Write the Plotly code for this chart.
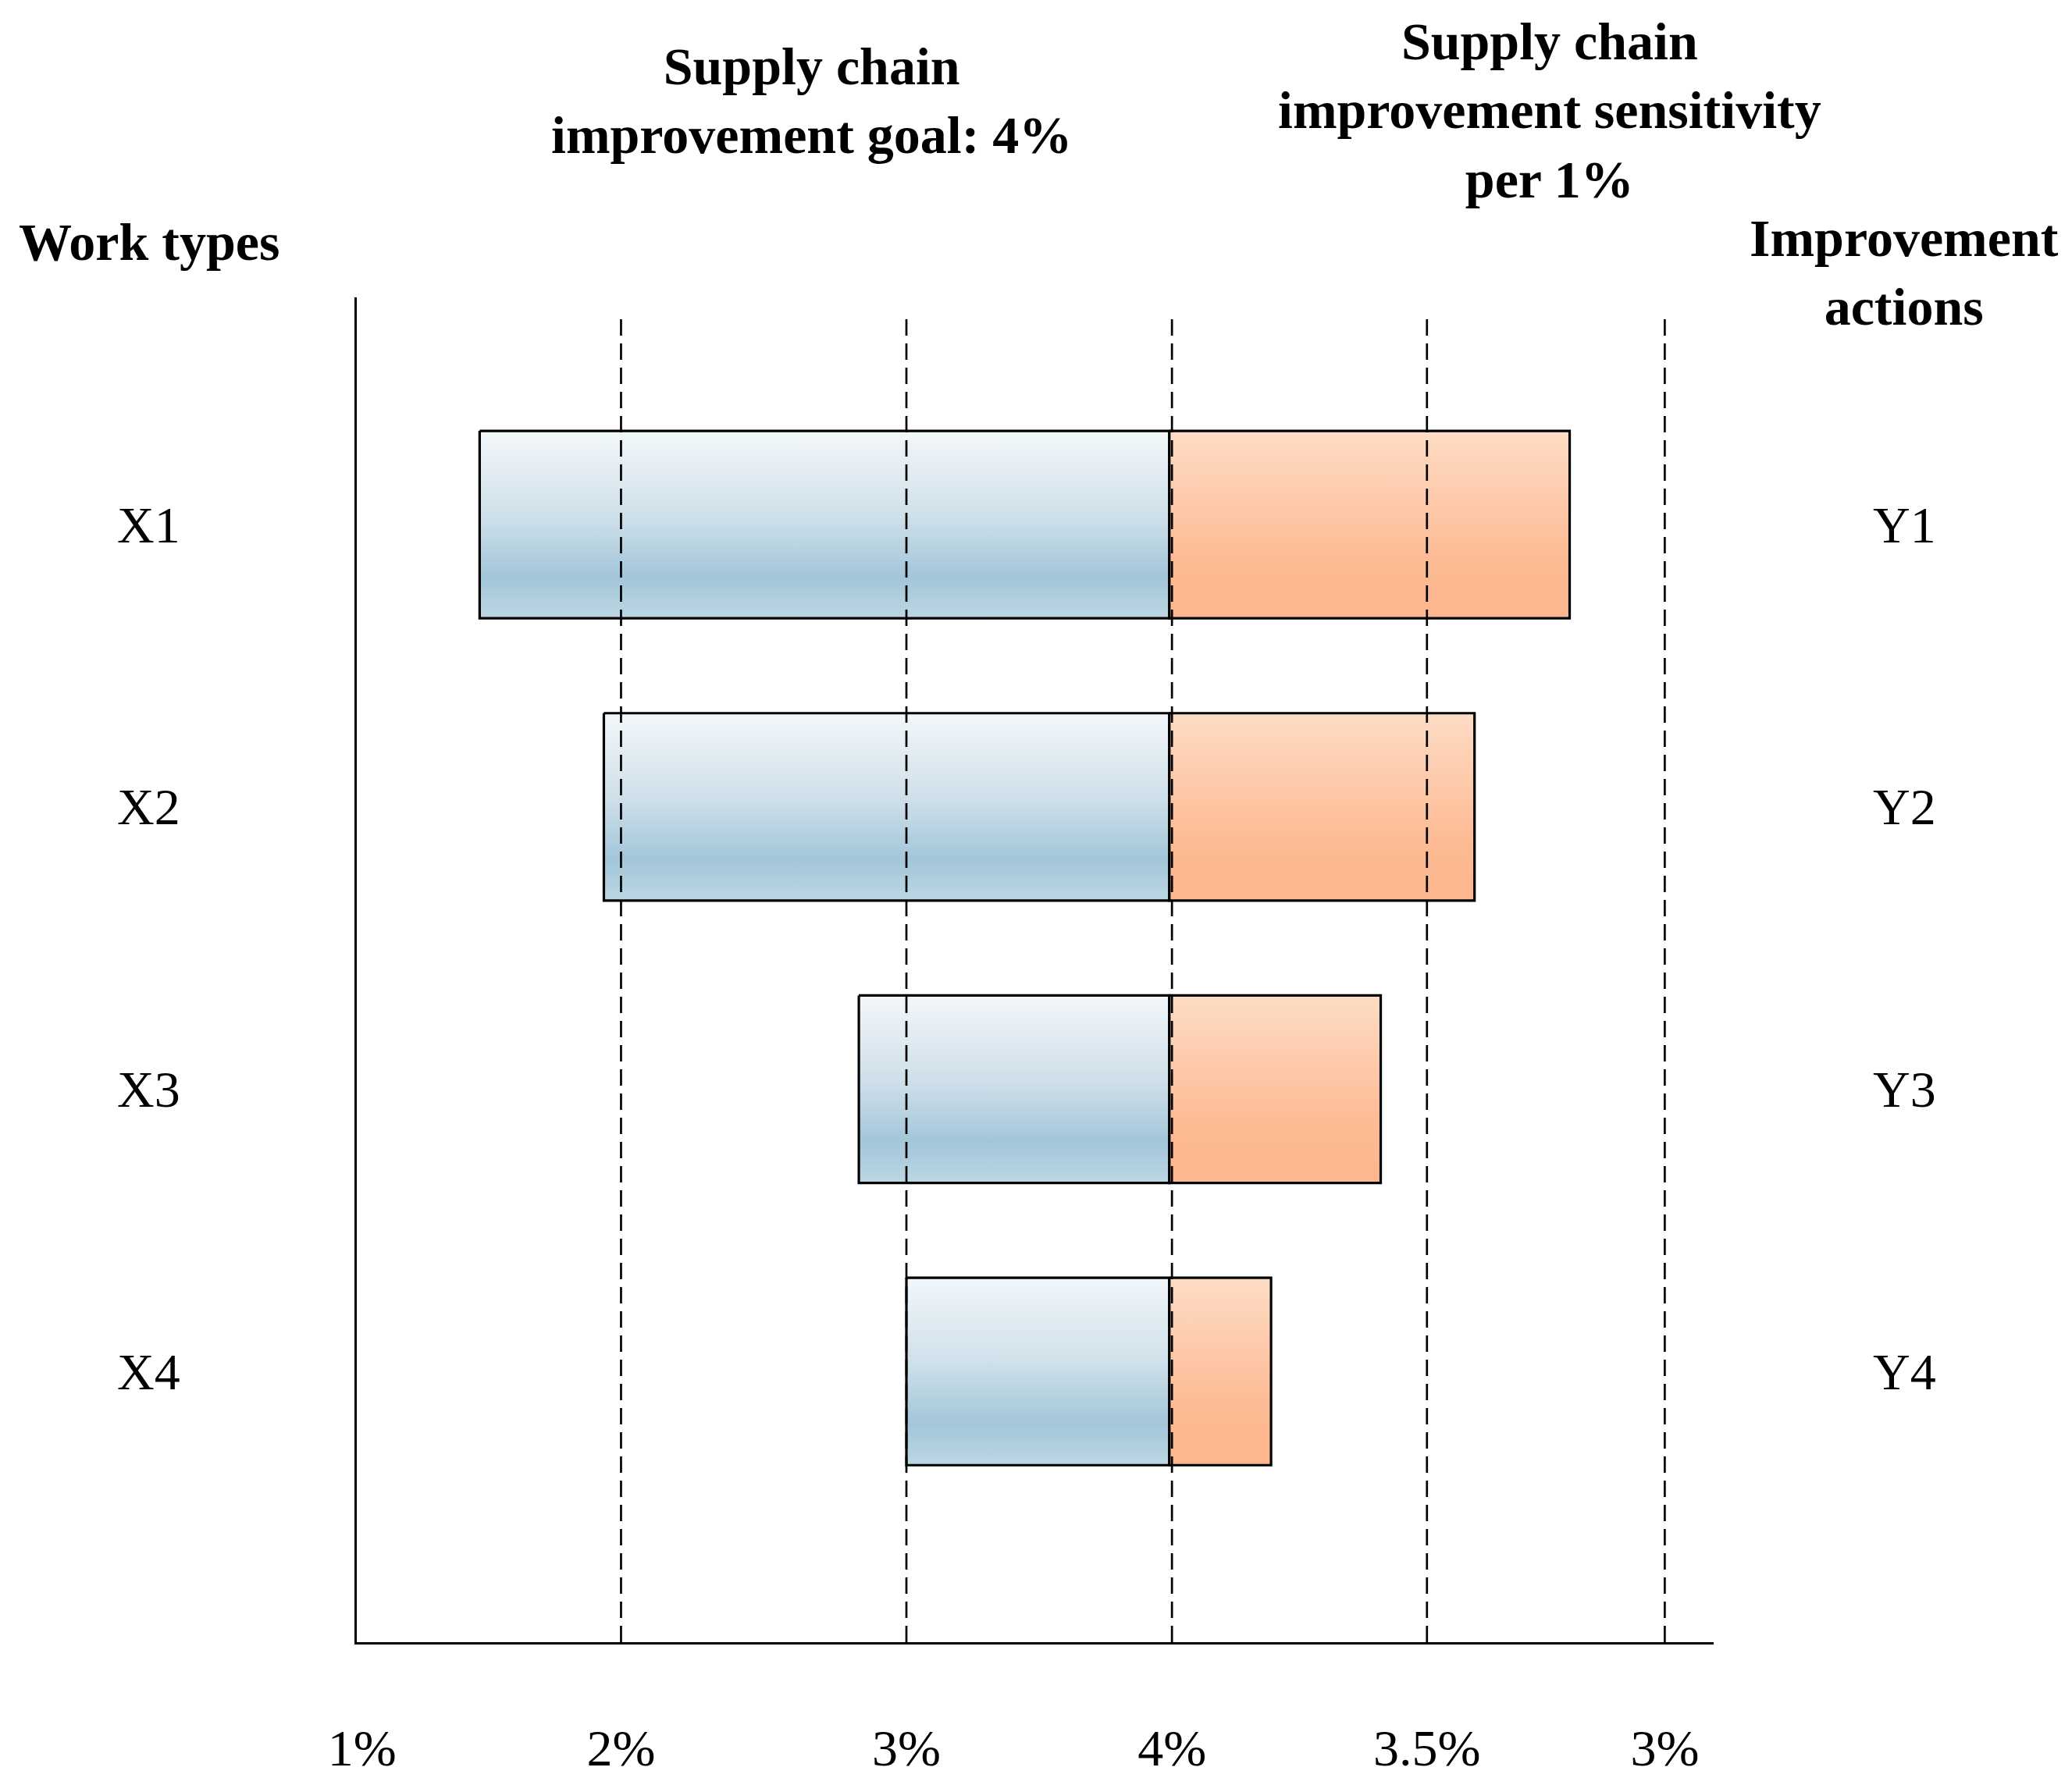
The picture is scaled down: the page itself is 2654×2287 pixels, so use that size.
import plotly.graph_objects as go

# ---- data (axis position units; ticks carry the percentage labels) ----
work_types = ["X1", "X2", "X3", "X4"]
actions = ["Y1", "Y2", "Y3", "Y4"]
rows = [1, 2, 3, 4]
goal_start = [0.465, 0.935, 1.90, 2.08]     # left end of blue bars
goal_end = [3.075, 3.075, 3.075, 3.075]     # goal point (4%)
sens_end = [4.59, 4.23, 3.875, 3.46]        # right end of orange bars
tick_pos = [0.02, 1.0, 2.08, 3.085, 4.05, 4.95]
tick_labels = ["1%", "2%", "3%", "4%", "3.5%", "3%"]

FONT = "Liberation Serif"
OFF = 8                      # default page body margin
W, H = 2654 - 2 * OFF, 2287 - 2 * OFF
L, T = 457 - OFF, 381 - OFF
PW, PH = 1738, 1723
R, B = W - L - PW, H - T - PH
BAR_H = 0.664

def px(x):
    return (x - OFF - L) / PW

def py(y):
    return (T + PH - (y - OFF)) / PH

blue_scale = [[0, "#F3F7FA"], [0.45, "#CFE0EA"], [0.78, "#A3C6D9"], [1, "#BDD7E4"]]
orange_scale = [[0, "#FEDCC5"], [0.7, "#FDBA93"], [1, "#FDB68E"]]

fig = go.Figure()

def add_bar(x0, x1, yc, scale):
    top, bot = yc - BAR_H / 2, yc + BAR_H / 2
    fig.add_trace(go.Scatter(
        x=[x0, x1, x1, x0, x0], y=[top, top, bot, bot, top],
        mode="lines", fill="toself",
        fillgradient=dict(type="vertical", colorscale=scale, start=top, stop=bot),
        line=dict(color="black", width=3.2),
        hoverinfo="skip", showlegend=False))

for i, r in enumerate(rows):
    add_bar(goal_start[i], goal_end[i], r, blue_scale)
    add_bar(goal_end[i], sens_end[i], r, orange_scale)

# dashed reference lines above the bars
for xv in tick_pos[1:]:
    fig.add_shape(type="line", xref="x", yref="paper", x0=xv, x1=xv, y0=0, y1=0.988,
                  line=dict(color="black", width=2.7, dash="21px,10px"), layer="above")

ann = []
for r, wt, ac in zip(rows, work_types, actions):
    ann.append(dict(text=wt, xref="paper", yref="y", x=px(190), y=r, showarrow=False,
                    xanchor="center", yanchor="middle", font=dict(size=66)))
    ann.append(dict(text=ac, xref="paper", yref="y", x=px(2439), y=r, showarrow=False,
                    xanchor="center", yanchor="middle", font=dict(size=66)))

bold = dict(size=68, family=FONT, color="black")
ann.append(dict(text="<b>Work types</b>", xref="paper", yref="paper", x=px(191), y=py(310),
                showarrow=False, xanchor="center", yanchor="middle", font=bold))
ann.append(dict(text="<b>Improvement<br>actions</b>", xref="paper", yref="paper", x=px(2439),
                y=py(349), showarrow=False, xanchor="center", yanchor="middle", font=bold))
ann.append(dict(text="<b>Supply chain<br>improvement goal: 4%</b>", xref="paper", yref="paper",
                x=px(1039), y=py(129), showarrow=False, xanchor="center", yanchor="middle", font=bold))
ann.append(dict(text="<b>Supply chain<br>improvement sensitivity<br>per 1%</b>", xref="paper",
                yref="paper", x=px(1985), y=py(142), showarrow=False, xanchor="center",
                yanchor="middle", font=bold))

fig.update_layout(
    width=W, height=H,
    margin=dict(l=L, r=R, t=T, b=B, autoexpand=False),
    paper_bgcolor="white", plot_bgcolor="white",
    font=dict(family=FONT, size=66, color="black"),
    annotations=ann,
    xaxis=dict(range=[0, 5.135], showline=True, linecolor="black", linewidth=3.4,
               showgrid=False, zeroline=False, ticks="", tickvals=tick_pos, ticktext=tick_labels,
               ticklabelstandoff=76, tickfont=dict(size=66), automargin=False),
    yaxis=dict(range=[4.959, 0.195], showline=True, linecolor="black", linewidth=3.4,
               showgrid=False, zeroline=False, ticks="", showticklabels=False, automargin=False),
)

fig.write_html("out.html")
